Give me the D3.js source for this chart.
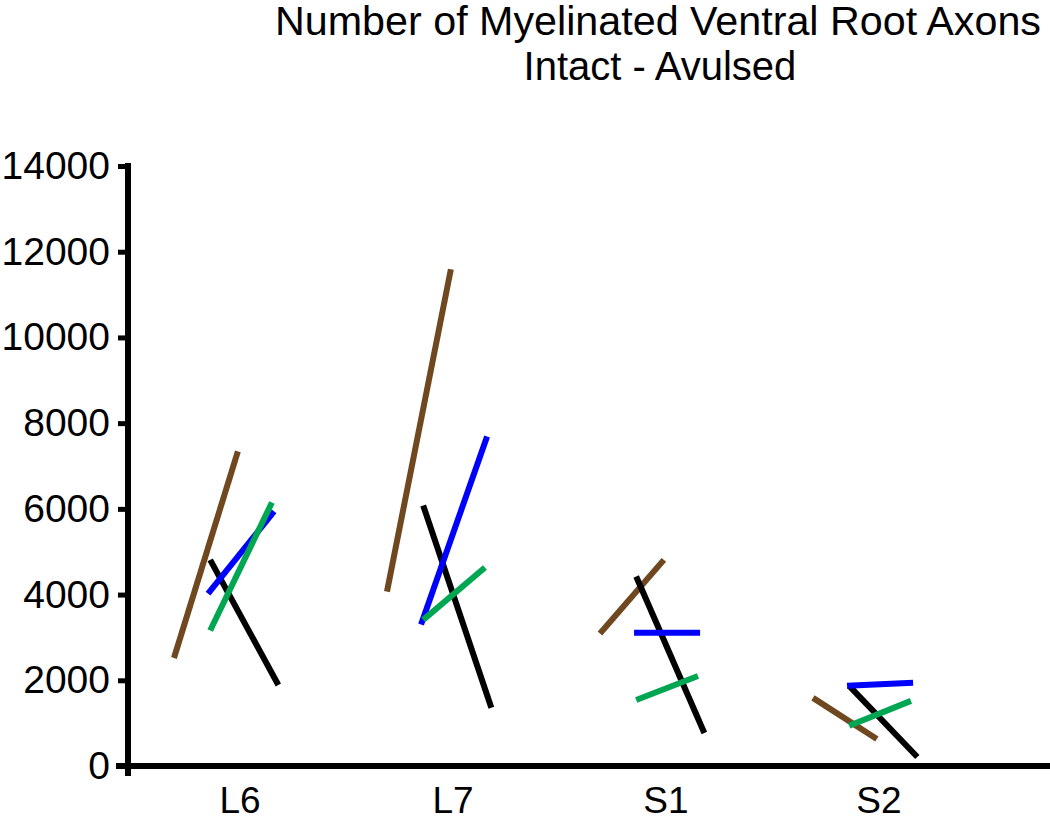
<!DOCTYPE html>
<html>
<head>
    <meta charset="utf-8">
    <script src="https://d3js.org/d3.v7.min.js"></script>
    <style>
        html, body { margin: 0; padding: 0; background: #fff; }
        text { font-family: "Liberation Sans", Arial, sans-serif; fill: #000; }
    </style>
</head>
<body>
<div id="chart"></div>
<script>
    // spinal roots
    var categories = ["L6", "L7", "S1", "S2"];
    var yTicks = [0, 2000, 4000, 6000, 8000, 10000, 12000, 14000];

    // intact -> avulsed axon counts, one pair per animal
    var brownIntact = [2520, 4070, 3090, 1590];
    var brownAvulsed = [7340, 11590, 4810, 630];
    var blackIntact = [4810, 6080, 4420, 1870];
    var blackAvulsed = [1890, 1360, 770, 210];
    var blueIntact = [4020, 3300, 3110, 1870];
    var blueAvulsed = [5940, 7690, 3110, 1940];
    var greenIntact = [3160, 3410, 1540, 940];
    var greenAvulsed = [6150, 4630, 2100, 1520];

    var width = 1050, height = 832;

    var svg = d3.select("#chart").append("svg")
        .attr("width", width)
        .attr("height", height);

    var x = d3.scaleLinear().domain([0, 3]).range([240, 879]);
    var y = d3.scaleLinear().domain([0, 14000]).range([766, 166]);

    // each animal drawn a little shifted inside the category
    var series = [
        { color: "#704820", a: brownIntact, b: brownAvulsed, off: [-0.31, -0.01] },
        { color: "#000000", a: blackIntact, b: blackAvulsed, off: [-0.14, 0.18] },
        { color: "#0000ff", a: blueIntact, b: blueAvulsed, off: [-0.15, 0.16] },
        { color: "#00a651", a: greenIntact, b: greenAvulsed, off: [-0.14, 0.15] }
    ];

    // title
    svg.append("text")
        .attr("x", 658).attr("y", 35)
        .attr("text-anchor", "middle")
        .attr("font-size", 40)
        .attr("textLength", 766)
        .attr("lengthAdjust", "spacingAndGlyphs")
        .text("Number of Myelinated Ventral Root Axons");
    svg.append("text")
        .attr("x", 660).attr("y", 80)
        .attr("text-anchor", "middle")
        .attr("font-size", 40)
        .text("Intact - Avulsed");

    // y axis ticks + labels
    var yAxis = svg.append("g")
        .attr("transform", "translate(128,0)")
        .call(d3.axisLeft(y).tickValues(yTicks).tickSize(10).tickSizeOuter(0).tickPadding(8).tickFormat(d3.format("d")));
    yAxis.select(".domain").remove();
    yAxis.selectAll(".tick line").attr("stroke", "#000").attr("stroke-width", 5);
    yAxis.selectAll(".tick text")
        .attr("font-size", 39)
        .attr("font-family", "Liberation Sans, Arial, sans-serif")
        .attr("fill", "#000");

    // axis lines
    svg.append("line")
        .attr("x1", 128).attr("x2", 128)
        .attr("y1", 163).attr("y2", 776)
        .attr("stroke", "#000").attr("stroke-width", 6);
    svg.append("line")
        .attr("x1", 116).attr("x2", width)
        .attr("y1", y(0)).attr("y2", y(0))
        .attr("stroke", "#000").attr("stroke-width", 6);

    // category labels
    svg.append("g").selectAll("text")
        .data(categories)
        .enter().append("text")
        .attr("x", function (d, i) { return x(i); })
        .attr("y", 813)
        .attr("text-anchor", "middle")
        .attr("font-size", 37)
        .text(function (d) { return d; });

    // intact -> avulsed segments
    series.forEach(function (s) {
        svg.append("g").selectAll("line")
            .data(categories)
            .enter().append("line")
            .attr("x1", function (d, i) { return x(i + s.off[0]); })
            .attr("x2", function (d, i) { return x(i + s.off[1]); })
            .attr("y1", function (d, i) { return y(s.a[i]); })
            .attr("y2", function (d, i) { return y(s.b[i]); })
            .attr("stroke", s.color)
            .attr("stroke-width", 6);
    });
</script>
</body>
</html>
